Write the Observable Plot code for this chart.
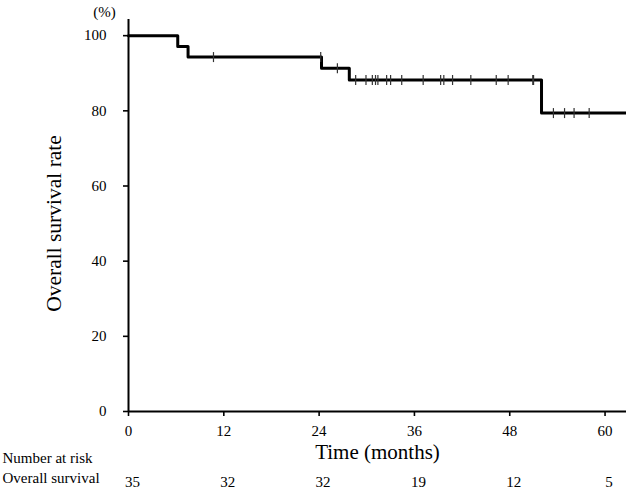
<!DOCTYPE html>
<html>
<head>
<meta charset="utf-8">
<script src="https://cdn.jsdelivr.net/npm/d3@7"></script>
<script src="https://cdn.jsdelivr.net/npm/@observablehq/plot@0.6"></script>
<style>
  html, body { margin: 0; padding: 0; background: #fff; }
  #chart svg { display: block; }
</style>
</head>
<body>
<div id="chart"></div>
<script>
// Kaplan–Meier step data (months, survival %)
const eventTimes = [0, 6.2, 7.5, 24.3, 27.8, 52.0];
const survival   = [100, 97.1, 94.3, 91.3, 88.2, 79.4];
const followUpEnd = 62.7;
// censored observations (months)
const censorTimes = [10.7, 24.2, 26.3, 28.6, 29.9, 30.7, 31.1, 31.4, 32.5, 33.0, 34.4,
  37.1, 39.3, 39.7, 40.8, 43.1, 46.3, 47.8, 50.9, 51.0, 53.5, 54.9, 56.1, 58.0];
// number at risk table
const riskTimes = [0, 12, 24, 36, 48, 60];
const riskCounts = [35, 32, 32, 19, 12, 5];
const xTicks = [0, 12, 24, 36, 48, 60];
const yTicks = [0, 20, 40, 60, 80, 100];

const curve = eventTimes.map((t, i) => ({t, s: survival[i]}));
curve.push({t: followUpEnd, s: survival[survival.length - 1]});
function survAt(t) {
  let s = survival[0];
  for (let i = 0; i < eventTimes.length; i++) if (eventTimes[i] <= t) s = survival[i];
  return s;
}
const censors = censorTimes.map(t => ({t, s: survAt(t)}));
const risk = riskTimes.map((t, i) => ({t, n: riskCounts[i]}));

const vbar = { draw(context) { context.moveTo(0, -5); context.lineTo(0, 5); } };
const font = "Liberation Serif, Times New Roman, serif";

const chart = Plot.plot({
  width: 626,
  height: 491,
  marginLeft: 128,
  marginRight: 0,
  marginTop: 19,
  marginBottom: 80,
  style: { fontFamily: font, fontSize: "15px", color: "#000", background: "#fff" },
  x: { domain: [0, followUpEnd] },
  y: { domain: [0, 104.3] },
  marks: [
    Plot.axisX({ ticks: xTicks, tickSize: 5, tickPadding: 9, tickFormat: d => d, label: null, fontSize: 15, strokeWidth: 1.6 }),
    Plot.axisY({ ticks: yTicks, tickSize: 5, tickPadding: 17, tickFormat: d => d, label: null, fontSize: 15, strokeWidth: 1.6 }),
    Plot.ruleY([0], { stroke: "#000", strokeWidth: 2 }),
    Plot.ruleX([0], { stroke: "#000", strokeWidth: 2 }),
    Plot.line(curve, { x: "t", y: "s", curve: "step-after", stroke: "#000", strokeWidth: 3 }),
    Plot.dot(censors, { x: "t", y: "s", symbol: vbar, stroke: "#333", strokeWidth: 1.2, fill: "none" }),
    Plot.text(["(%)"], { frameAnchor: "top-left", dx: -24, dy: -13, fontSize: 15, textAnchor: "middle" }),
    Plot.text(["Overall survival rate"], { frameAnchor: "left", dx: -74, dy: 8, rotate: -90, fontSize: 21.5, textAnchor: "middle" }),
    Plot.text(["Time (months)"], { frameAnchor: "bottom", dx: 0, dy: 47, fontSize: 21, textAnchor: "middle" }),
    Plot.text(risk, { x: "t", y: () => 0, text: "n", dy: 71, dx: 4, fontSize: 15, textAnchor: "middle" }),
    Plot.text(["Number at risk"], { frameAnchor: "bottom-left", dx: -126, dy: 51, fontSize: 15, textAnchor: "start" }),
    Plot.text(["Overall survival"], { frameAnchor: "bottom-left", dx: -126, dy: 71, fontSize: 15, textAnchor: "start" })
  ]
});
document.getElementById("chart").appendChild(chart);
</script>
</body>
</html>
